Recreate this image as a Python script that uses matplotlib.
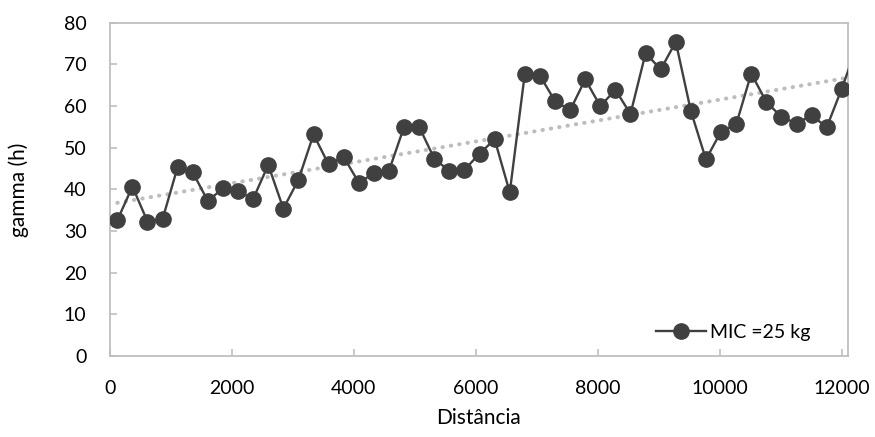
import numpy as np
import matplotlib
matplotlib.use("Agg")
import matplotlib.pyplot as plt

plt.rcParams['font.family'] = ['Lato', 'DejaVu Sans']

distancia = [120, 368, 615, 863, 1110, 1358, 1606, 1853, 2101, 2348,
             2596, 2844, 3091, 3339, 3586, 3834, 4082, 4329, 4577, 4824,
             5072, 5320, 5567, 5815, 6062, 6310, 6558, 6805, 7053, 7300,
             7548, 7796, 8043, 8291, 8538, 8786, 9034, 9281, 9529, 9776,
             10024, 10272, 10519, 10767, 11014, 11262, 11510, 11757, 12005,
             12252]
gamma = [32.6, 40.7, 32.3, 32.9, 45.4, 44.1, 37.2, 40.3, 39.6, 37.7,
         45.9, 35.4, 42.3, 53.2, 46.0, 47.8, 41.6, 43.9, 44.5, 55.0,
         55.0, 47.4, 44.4, 44.7, 48.6, 52.0, 39.3, 67.8, 67.3, 61.2,
         59.0, 66.4, 60.0, 63.9, 58.1, 72.7, 68.8, 75.4, 58.8, 47.2,
         53.9, 55.6, 67.8, 61.0, 57.4, 55.8, 57.8, 54.9, 64.2,
         74.4]
serie_label = "MIC =25 kg"
x_ticks = [0, 2000, 4000, 6000, 8000, 10000, 12000]
y_ticks = [0, 10, 20, 30, 40, 50, 60, 70, 80]

fig = plt.figure(figsize=(8.75, 4.37), dpi=100)
ax = fig.add_axes([0.1257, 0.185, 0.843, 0.763])

x = np.array(distancia, dtype=float)
y = np.array(gamma, dtype=float)
coef = np.polyfit(x, y, 1)
xt = np.array([x[0], x[-1]])
ax.plot(xt, np.polyval(coef, xt), linestyle=(0, (0.1, 2.0)), color='#BDBDBD',
        linewidth=2.9, dash_capstyle='round', zorder=1)

ax.plot(x, y, color='#404040', linewidth=1.7, marker='o', markersize=11,
        markerfacecolor='#404040', markeredgecolor='#404040', label=serie_label,
        zorder=3)

ax.set_xlim(0, 12100)
ax.set_ylim(0, 80)
ax.set_xticks(x_ticks)
ax.set_yticks(y_ticks)
for s in ax.spines.values():
    s.set_color('#BFBFBF')
    s.set_linewidth(1.3)
ax.tick_params(direction='in', length=5, width=1.2, color='#BFBFBF',
               labelsize=14, labelcolor='#000000')
ax.tick_params(axis='x', pad=17)
ax.tick_params(axis='y', pad=17)

ax.set_xlabel('Distância', fontsize=15, labelpad=8)
ax.set_ylabel('gamma (h)', fontsize=15, labelpad=25)

leg = ax.legend(loc='center right', bbox_to_anchor=(0.96, 0.072), frameon=False,
                fontsize=14, handlelength=2.6, borderaxespad=0.0,
                handletextpad=0.2)

fig.savefig('out.png', dpi=100)
